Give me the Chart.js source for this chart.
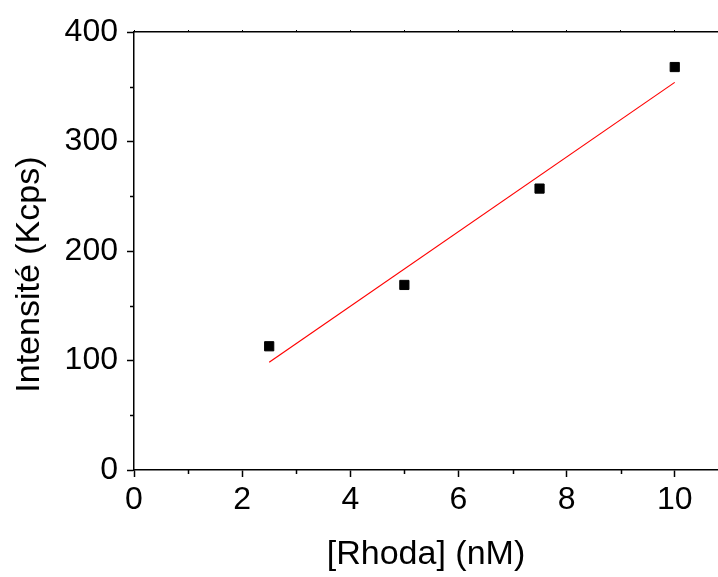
<!DOCTYPE html>
<html>
<head>
<meta charset="utf-8">
<script src="https://cdn.jsdelivr.net/npm/chart.js@4.4.0/dist/chart.umd.min.js"></script>
<style>
  html, body { margin: 0; padding: 0; background: #fff; }
  #wrap { width: 718px; height: 577px; }
</style>
</head>
<body>
<div id="wrap"><canvas id="c" width="718" height="577"></canvas></div>
<script>
// measured points
const rhoda = [2.5, 5, 7.5, 10]
const intensite = [113, 169, 257, 368]
// linear fit, read at its two ends
const fitX = [2.5, 10]
const fitY = [98.5, 354]
// axis ticks
const xMajor = [0, 2, 4, 6, 8, 10]
const xMinor = [1, 3, 5, 7, 9]
const yMajor = [0, 100, 200, 300, 400]
const yMinor = [50, 150, 250, 350]

const FONT = "'Liberation Sans', Arial, sans-serif"

const minorTicks = {
    id: 'minorTicks',
    afterDraw(chart){
        const ctx = chart.ctx
        const xs = chart.scales.x
        const ys = chart.scales.y
        ctx.save()
        ctx.strokeStyle = '#000'
        ctx.lineWidth = 1.5
        ctx.beginPath()
        for(const v of xMinor){
            const px = Math.round(xs.getPixelForValue(v)) + 0.5
            ctx.moveTo(px, xs.top)
            ctx.lineTo(px, xs.top + 4)
        }
        for(const v of yMinor){
            const py = Math.round(ys.getPixelForValue(v)) + 0.5
            ctx.moveTo(ys.right, py)
            ctx.lineTo(ys.right - 4, py)
        }
        ctx.stroke()
        ctx.restore()
    }
}

const ctx = document.getElementById('c').getContext('2d')
const chart = new Chart(ctx, {
    type: 'scatter',
    data: {
        datasets: [
            {
                label: 'fit',
                data: fitX.map((x, i) => ({x: x, y: fitY[i]})),
                showLine: true,
                borderColor: '#ff0000',
                borderWidth: 1.2,
                pointRadius: 0,
                xAxisID: 'x',
                yAxisID: 'y',
            },
            {
                label: 'data',
                data: rhoda.map((x, i) => ({x: x, y: intensite[i]})),
                pointStyle: 'rect',
                pointRadius: 6.5,
                backgroundColor: '#000',
                borderColor: '#000',
                borderWidth: 1,
                xAxisID: 'x',
                yAxisID: 'y',
            },
        ]
    },
    options: {
        responsive: false,
        animation: false,
        layout: {autoPadding: false, padding: {top: 32, right: 0, left: 0, bottom: 0}},
        plugins: {
            legend: {display: false},
            tooltip: {enabled: false},
        },
        scales: {
            x: {
                type: 'linear',
                position: 'bottom',
                min: 0,
                max: 10.8,
                afterFit(scale){ scale.height = 107 },
                afterBuildTicks(scale){ scale.ticks = xMajor.map(v => ({value: v})) },
                ticks: {
                    color: '#000',
                    padding: 4,
                    maxRotation: 0,
                    font: {family: FONT, size: 32},
                },
                grid: {
                    drawOnChartArea: false,
                    drawTicks: true,
                    tickLength: 7,
                    tickColor: '#000',
                    tickWidth: 1.5,
                },
                border: {display: true, color: '#000', width: 1.5},
                title: {
                    display: true,
                    text: '[Rhoda] (nM)',
                    color: '#000',
                    font: {family: FONT, size: 34},
                    padding: {top: 0, bottom: 2},
                },
            },
            x2: {
                type: 'linear',
                position: 'top',
                min: 0,
                max: 10.8,
                afterFit(scale){ scale.height = 0 },
                afterBuildTicks(scale){ scale.ticks = xMajor.concat(xMinor).map(v => ({value: v})) },
                ticks: {display: false},
                grid: {
                    drawOnChartArea: false,
                    drawTicks: true,
                    tickLength: 2,
                    tickColor: '#000',
                    tickWidth: 1,
                },
                border: {display: true, color: '#000', width: 1.5},
            },
            y: {
                type: 'linear',
                position: 'left',
                min: 0,
                max: 400,
                afterFit(scale){ scale.width = 134 },
                afterBuildTicks(scale){ scale.ticks = yMajor.map(v => ({value: v})) },
                ticks: {
                    color: '#000',
                    padding: 9,
                    font: {family: FONT, size: 32},
                },
                grid: {
                    drawOnChartArea: false,
                    drawTicks: true,
                    tickLength: 7,
                    tickColor: '#000',
                    tickWidth: 1.5,
                },
                border: {display: true, color: '#000', width: 1.5},
                title: {
                    display: true,
                    // trailing spaces push the rotated text down a little, like the original
                    text: 'Intensité (Kcps)\u00a0\u00a0\u00a0\u00a0\u00a0',
                    color: '#000',
                    font: {family: FONT, size: 34},
                    padding: {top: 9, bottom: 0},
                },
            },
        },
    },
    plugins: [minorTicks],
})
</script>
</body>
</html>
